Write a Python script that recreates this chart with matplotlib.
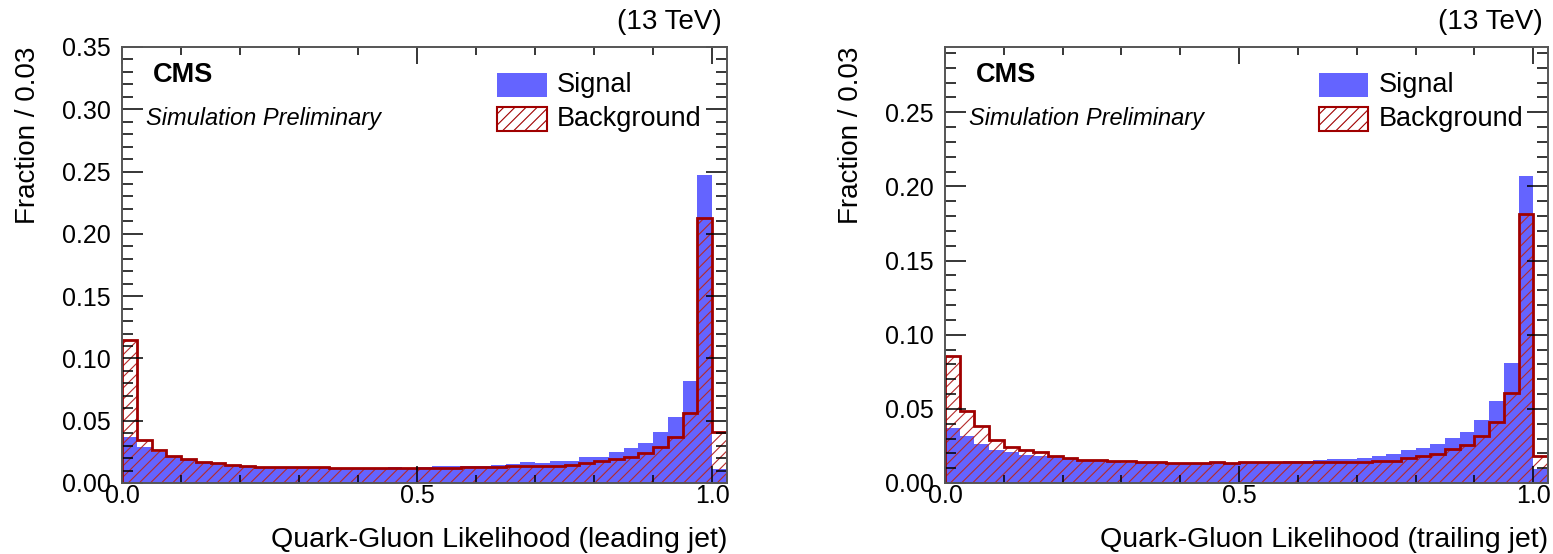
import numpy as np
import matplotlib
matplotlib.use("Agg")
import matplotlib.pyplot as plt
from matplotlib.ticker import MultipleLocator, FormatStrFormatter
from matplotlib.patches import Rectangle

plt.rcParams['font.family'] = ['Liberation Sans', 'DejaVu Sans']
plt.rcParams['hatch.linewidth'] = 0.8

# 41 bins of width 0.025 from 0 to 1.025 (last bin = 1.0 - 1.025)
edges = np.arange(42) * 0.025

sig_lead = [0.037, 0.029, 0.0246, 0.0206, 0.0185, 0.0168, 0.0158, 0.0144, 0.0136, 0.013,
            0.0126, 0.0122, 0.012, 0.012, 0.0119, 0.012, 0.012, 0.012, 0.0128, 0.012,
            0.0131, 0.0133, 0.0134, 0.0134, 0.0136, 0.0144, 0.0152, 0.0166, 0.016, 0.0177,
            0.0177, 0.0209, 0.0209, 0.0246, 0.0281, 0.0321, 0.0407, 0.0533, 0.0821, 0.247,
            0.0112]
bkg_lead = [0.1148, 0.0345, 0.0265, 0.0217, 0.019, 0.0171, 0.016, 0.0147, 0.0134, 0.0126,
            0.0126, 0.0125, 0.0125, 0.0125, 0.0123, 0.0123, 0.0123, 0.0123, 0.0123, 0.0123,
            0.0123, 0.0124, 0.0124, 0.0125, 0.0125, 0.0126, 0.0134, 0.0139, 0.0139, 0.0139,
            0.0147, 0.0163, 0.0174, 0.019, 0.0211, 0.0238, 0.0286, 0.0367, 0.0562, 0.2124,
            0.0406]

sig_trail = [0.0374, 0.0318, 0.026, 0.0224, 0.0206, 0.019, 0.0182, 0.0172, 0.0162, 0.0152,
             0.0146, 0.0141, 0.0137, 0.0133, 0.0132, 0.0131, 0.0131, 0.0131, 0.0133, 0.0131,
             0.0134, 0.0136, 0.0138, 0.0148, 0.015, 0.0158, 0.016, 0.0163, 0.0168, 0.0184,
             0.0195, 0.0222, 0.0235, 0.0262, 0.0303, 0.0345, 0.0424, 0.0554, 0.0807, 0.207,
             0.0094]
bkg_trail = [0.0857, 0.0487, 0.0381, 0.0291, 0.024, 0.022, 0.0206, 0.0184, 0.0166, 0.0157,
             0.0152, 0.0148, 0.0146, 0.0143, 0.014, 0.0136, 0.0135, 0.0135, 0.014, 0.0134,
             0.0139, 0.0139, 0.014, 0.0143, 0.0141, 0.0143, 0.014, 0.014, 0.0143, 0.015,
             0.015, 0.0168, 0.0184, 0.0195, 0.0229, 0.0258, 0.0318, 0.0408, 0.061, 0.1816,
             0.0184]

panels = [
    (sig_lead, bkg_lead, 0.35, 'Quark-Gluon Likelihood (leading jet)'),
    (sig_trail, bkg_trail, 0.294, 'Quark-Gluon Likelihood (trailing jet)'),
]

blue = '#6464ff'
dark_red = '#a00000'
hatch_red = '#b52a2a'

W, H = 1553, 554
fig = plt.figure(figsize=(W / 100, H / 100), dpi=100)
axes_px = [(122, 727), (945, 1548)]
top_px, bot_px = 47, 483

for (sig, bkg, ymax, xlabel), (x0, x1) in zip(panels, axes_px):
    ax = fig.add_axes([x0 / W, 1 - bot_px / H, (x1 - x0) / W, (bot_px - top_px) / H])

    ax.stairs(sig, edges, fill=True, color=blue, linewidth=0)
    ax.stairs(bkg, edges, fill=True, facecolor='none', edgecolor=hatch_red,
              hatch='///', linewidth=0)
    ax.stairs(bkg, edges, baseline=0, color=dark_red, linewidth=2)

    ax.set_xlim(0, 1.025)
    ax.set_ylim(0, ymax)

    ax.xaxis.set_major_locator(MultipleLocator(0.5))
    ax.xaxis.set_minor_locator(MultipleLocator(0.1))
    ax.yaxis.set_major_locator(MultipleLocator(0.05))
    ax.yaxis.set_minor_locator(MultipleLocator(0.01))
    ax.xaxis.set_major_formatter(FormatStrFormatter('%.1f'))
    ax.yaxis.set_major_formatter(FormatStrFormatter('%.2f'))
    ax.tick_params(which='both', direction='in', top=True, right=True,
                   labelsize=18, pad=8, width=1.1, color='black')
    ax.tick_params(which='major', length=15)
    ax.tick_params(which='minor', length=8)
    ax.tick_params(axis='x', which='major', length=12, pad=1)
    ax.tick_params(axis='x', which='minor', length=6)
    for sp in ax.spines.values():
        sp.set_color('#555555')
        sp.set_linewidth(1.4)

    ax.text(0.051, 0.936, 'CMS', transform=ax.transAxes, fontsize=19.5,
            fontweight='bold', ha='left', va='center')
    ax.text(0.04, 0.837, 'Simulation Preliminary', transform=ax.transAxes,
            fontsize=17, style='italic', ha='left', va='center')
    ax.text(0.992, 1.057, '(13 TeV)', transform=ax.transAxes, fontsize=20,
            ha='right', va='center')

    # legend
    ax.add_patch(Rectangle((0.62, 0.885), 0.082, 0.055, transform=ax.transAxes,
                           facecolor=blue, edgecolor='none', clip_on=False))
    ax.add_patch(Rectangle((0.62, 0.808), 0.082, 0.055, transform=ax.transAxes,
                           facecolor='white', edgecolor=dark_red, hatch='///',
                           linewidth=1.5, clip_on=False))
    ax.text(0.719, 0.913, 'Signal', transform=ax.transAxes, fontsize=19.5,
            ha='left', va='center')
    ax.text(0.719, 0.836, 'Background', transform=ax.transAxes, fontsize=19.5,
            ha='left', va='center')

    ax.text(1.0, -0.131, xlabel, transform=ax.transAxes, fontsize=20.5,
            ha='right', va='center')
    fig.text((x0 - 94) / W, 1 - top_px / H, 'Fraction / 0.03', rotation=90,
             fontsize=20, ha='center', va='top')

fig.savefig('out.png', dpi=100)
